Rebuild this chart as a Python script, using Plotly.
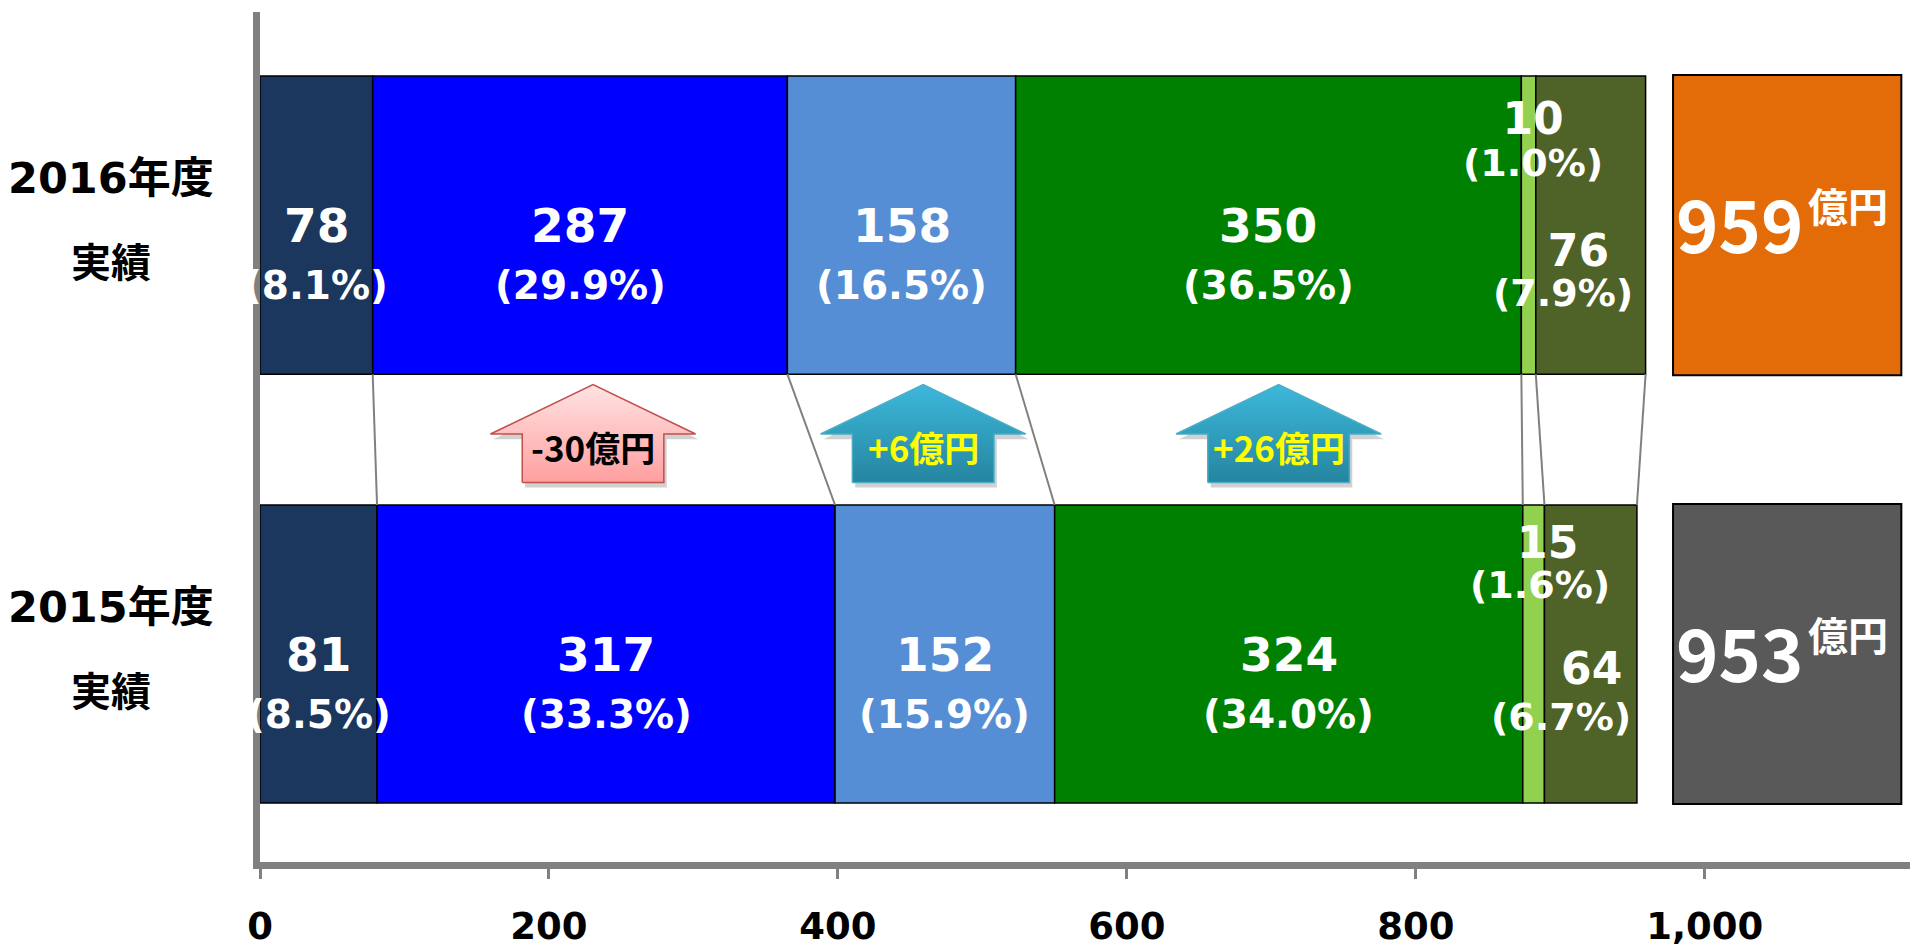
import plotly.graph_objects as go

# ---------------- data ----------------
cat_years = ["2016年度", "2015年度"]
cat_sub = ["実績", "実績"]
cat_pos = [1, 0]

v2016 = [78, 287, 158, 350, 10, 76]
v2015 = [81, 317, 152, 324, 15, 64]
pct2016 = ["8.1", "29.9", "16.5", "36.5", "1.0", "7.9"]
pct2015 = ["8.5", "33.3", "15.9", "34.0", "1.6", "6.7"]
totals = [959, 953]

tick_vals = [0, 200, 400, 600, 800, 1000]
tick_text = ["0", "200", "400", "600", "800", "1,000"]

# ---------------- style ----------------
seg_colors = ["#1B375E", "#0000FF", "#558ED5", "#008000", "#92D050", "#4F6228"]
total_colors = ["#E36C09", "#595959"]
FONT_LAT = "DejaVu Sans, Noto Sans CJK JP, sans-serif"
FONT_JP = "Noto Sans CJK JP, sans-serif"
BAR_W = 0.695
BOX_X0, BOX_LEN, BOX_W = 978, 158, 0.70
X_MAX = 1142
# label style for the small right-hand segments, keyed by (series index, segment index):
# (base font for line spacing, yshift, xshift, leading nbsp count on value line)
small_lab = {
    (0, 4): (32, 86, 4, 0),
    (0, 5): (31, -45, -28, 2),
    (1, 4): (31, 92, 6, 1),
    (1, 5): (35, -37, -30, 4),
}

series = [v2016, v2015]
pcts = [pct2016, pct2015]

fig = go.Figure()

# stacked segments with explicit bases
for i in range(len(v2016)):
    bases = [sum(s[:i]) for s in series]
    fig.add_trace(go.Bar(
        x=[s[i] for s in series], base=bases, y=cat_pos, orientation="h",
        width=BAR_W, marker=dict(color=seg_colors[i], line=dict(color="black", width=1.5)),
        hoverinfo="skip", showlegend=False))

# total boxes
fig.add_trace(go.Bar(
    x=[BOX_LEN, BOX_LEN], base=[BOX_X0, BOX_X0], y=cat_pos, orientation="h",
    width=BOX_W, marker=dict(color=total_colors, line=dict(color="black", width=2)),
    hoverinfo="skip", showlegend=False))

# connector lines between boundaries
lx, ly = [], []
for i in range(len(v2016)):
    lx += [sum(v2016[:i + 1]), sum(v2015[:i + 1]), None]
    ly += [1 - BAR_W / 2, BAR_W / 2, None]
fig.add_trace(go.Scatter(x=lx, y=ly, mode="lines", line=dict(color="#808080", width=2),
                         hoverinfo="skip", showlegend=False))

# change arrows for segments 1..3
HH, SH = 71, 49            # head / shaft half widths (data units)
Y_BOT, Y_SHO, Y_TOP = 0.40, 0.513, 0.628
for i in (1, 2, 3):
    c16 = sum(v2016[:i]) + v2016[i] / 2
    c15 = sum(v2015[:i]) + v2015[i] / 2
    cx = (c16 + c15) / 2
    diff = v2016[i] - v2015[i]
    neg = diff < 0
    ax = [cx - SH, cx - SH, cx - HH, cx, cx + HH, cx + SH, cx + SH, cx - SH]
    ay = [Y_BOT, Y_SHO, Y_SHO, Y_TOP, Y_SHO, Y_SHO, Y_BOT, Y_BOT]
    if neg:
        cs = [[0, "#FF9F9F"], [1, "#FFE3E3"]]
        lc = "#C0504D"
        tc = "black"
    else:
        cs = [[0, "#2585A0"], [1, "#3DB8DB"]]
        lc = "#4BACC6"
        tc = "#FFFF00"
    # shadow
    fig.add_trace(go.Scatter(x=[v + 2 for v in ax], y=[v - 0.012 for v in ay], mode="lines",
                             fill="toself", fillcolor="rgba(0,0,0,0.18)",
                             line=dict(width=0, color="rgba(0,0,0,0)"),
                             hoverinfo="skip", showlegend=False))
    fig.add_trace(go.Scatter(x=ax, y=ay, mode="lines", fill="toself",
                             fillgradient=dict(type="vertical", colorscale=cs),
                             line=dict(color=lc, width=1.5),
                             hoverinfo="skip", showlegend=False))
    sign = "+" if diff > 0 else ""
    fig.add_annotation(x=cx, y=0.483, xref="x", yref="y", showarrow=False,
                       text=f"<b>{sign}{diff}億円</b>",
                       font=dict(family=FONT_JP, size=35, color=tc))

annos = []
# segment labels
for k, (vals, pc, yc) in enumerate(zip(series, pcts, cat_pos)):
    for i, v in enumerate(vals):
        cx = sum(vals[:i]) + v / 2
        if (k, i) in small_lab:
            base, ysh, xsh, nb = small_lab[(k, i)]
            txt = (f"<span style='font-size:44px'><b>{'&nbsp;' * nb}{v}</b></span><br>"
                   f"<span style='font-size:38px'><b>({pc[i]}%)</b></span>")
            annos.append(dict(x=cx, y=yc, xref="x", yref="y", showarrow=False,
                              text=txt, yshift=ysh, xshift=xsh, borderpad=0,
                              font=dict(family=FONT_LAT, size=base, color="white")))
            continue
        annos.append(dict(x=cx, y=yc, xref="x", yref="y", showarrow=False,
                          text=f"<b>{v}</b>", yshift=0,
                          font=dict(family=FONT_LAT, size=47, color="white")))
        annos.append(dict(x=cx, y=yc, xref="x", yref="y", showarrow=False,
                          text=f"<b>({pc[i]}%)</b>", yshift=-60,
                          font=dict(family=FONT_LAT, size=39, color="white")))

# totals
for t, yc in zip(totals, cat_pos):
    bx = BOX_X0 + BOX_LEN / 2
    annos.append(dict(x=bx, y=yc, xref="x", yref="y", showarrow=False, xanchor="right",
                      xshift=18, yshift=4, text=f"<b>{t}</b>",
                      font=dict(family=FONT_JP, size=72, color="white")))
    annos.append(dict(x=bx, y=yc, xref="x", yref="y", showarrow=False, xanchor="left",
                      xshift=19, yshift=20, text="<b>億円</b>",
                      font=dict(family=FONT_JP, size=40, color="white")))

# category labels
for yr, sub, yc in zip(cat_years, cat_sub, cat_pos):
    annos.append(dict(x=-0.0903, y=yc, xref="paper", yref="y", showarrow=False,
                      xanchor="center", text=f"<b>{yr}</b>", yshift=47,
                      font=dict(family=FONT_LAT, size=43, color="black")))
    annos.append(dict(x=-0.0903, y=yc, xref="paper", yref="y", showarrow=False,
                      xanchor="center", text=f"<b>{sub}</b>", yshift=-38,
                      font=dict(family=FONT_LAT, size=40, color="black")))

for a in annos:
    fig.add_annotation(**a)

fig.update_layout(
    width=1910, height=948,
    margin=dict(l=260, r=0, t=12, b=78),
    paper_bgcolor="white", plot_bgcolor="white",
    barmode="overlay", showlegend=False,
    xaxis=dict(range=[0, X_MAX], showgrid=False, zeroline=False,
               showline=True, linecolor="#808080", linewidth=7,
               ticks="outside", tickcolor="#808080", tickwidth=3, ticklen=10,
               tickvals=tick_vals, ticktext=tick_text, ticklabelstandoff=16,
               tickfont=dict(family=FONT_LAT, size=37, color="black", weight="bold")),
    yaxis=dict(range=[-0.485, 1.497], showgrid=False, zeroline=False,
               showline=True, linecolor="#808080", linewidth=7,
               showticklabels=False, ticks=""),
)

fig.write_html("out.html")
